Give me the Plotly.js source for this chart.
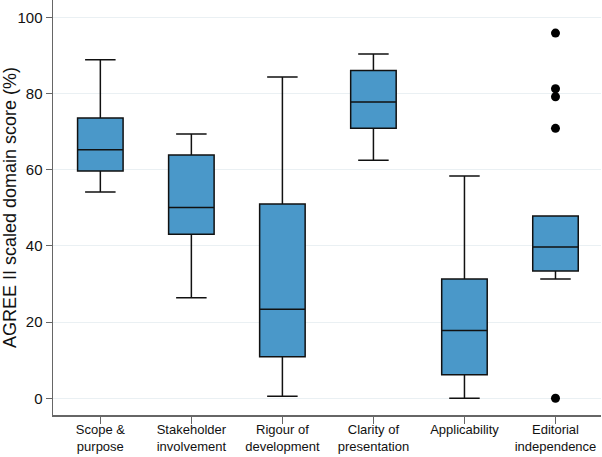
<!DOCTYPE html>
<html>
<head>
<meta charset="utf-8">
<script src="https://cdn.plot.ly/plotly-3.0.1.min.js"></script>
<style>
  html, body { margin: 0; padding: 0; background: #fff; }
  #chart { width: 602px; height: 457px; }
</style>
</head>
<body>
<div id="chart"></div>
<script>
  // AGREE II domains (x categories)
  const domains = [
    'Scope &<br>purpose',
    'Stakeholder<br>involvement',
    'Rigour of<br>development',
    'Clarity of<br>presentation',
    'Applicability',
    'Editorial<br>independence'
  ];

  // box statistics
  const lowerFence = [54.2, 26.4, 0.5, 62.5, 0.0, 31.3];
  const q1 = [59.7, 43.1, 10.9, 70.9, 6.2, 33.4];
  const median = [65.3, 50.1, 23.4, 77.8, 17.8, 39.7];
  const q3 = [73.6, 63.9, 51.0, 86.1, 31.3, 47.9];
  const upperFence = [88.9, 69.4, 84.4, 90.4, 58.4, 47.9];

  // outliers (editorial independence only)
  const outlierDomain = ['Editorial<br>independence', 'Editorial<br>independence',
    'Editorial<br>independence', 'Editorial<br>independence', 'Editorial<br>independence'];
  const outlierValues = [95.9, 81.3, 79.2, 70.9, 0];

  const yTicks = [0, 20, 40, 60, 80, 100];

  const boxes = {
    type: 'box',
    x: domains,
    q1: q1,
    median: median,
    q3: q3,
    lowerfence: lowerFence,
    upperfence: upperFence,
    width: 0.5,
    whiskerwidth: 0.67,
    fillcolor: '#4a98c9',
    line: { color: '#111111', width: 1.5 },
    boxpoints: false,
    hoverinfo: 'skip'
  };

  const outliers = {
    type: 'scatter',
    mode: 'markers',
    x: outlierDomain,
    y: outlierValues,
    marker: { color: '#000000', size: 9 },
    hoverinfo: 'skip'
  };

  const layout = {
    width: 602,
    height: 457,
    showlegend: false,
    paper_bgcolor: '#ffffff',
    plot_bgcolor: '#ffffff',
    font: { family: 'Liberation Sans, Arial, sans-serif', color: '#111111' },
    margin: { l: 53, r: 1, t: 0, b: 42 },
    xaxis: {
      type: 'category',
      categoryorder: 'array',
      categoryarray: domains,
      range: [-0.52, 5.5],
      showline: true,
      linecolor: '#666666',
      linewidth: 1.5,
      ticks: 'outside',
      ticklen: 7,
      tickcolor: '#666666',
      ticklabelstandoff: -5,
      showgrid: false,
      tickfont: { size: 13 },
      zeroline: false
    },
    yaxis: {
      range: [-4.4, 104.6],
      tickvals: yTicks,
      showline: true,
      linecolor: '#666666',
      linewidth: 1.5,
      ticks: 'outside',
      ticklen: 6,
      tickcolor: '#666666',
      gridcolor: '#eaf0f3',
      gridwidth: 1,
      zeroline: false,
      tickfont: { size: 15 },
      title: { text: 'AGREE II scaled domain score (%)', font: { size: 18 }, standoff: 6 }
    }
  };

  Plotly.newPlot('chart', [boxes, outliers], layout, { displayModeBar: false, staticPlot: true });
</script>
</body>
</html>
